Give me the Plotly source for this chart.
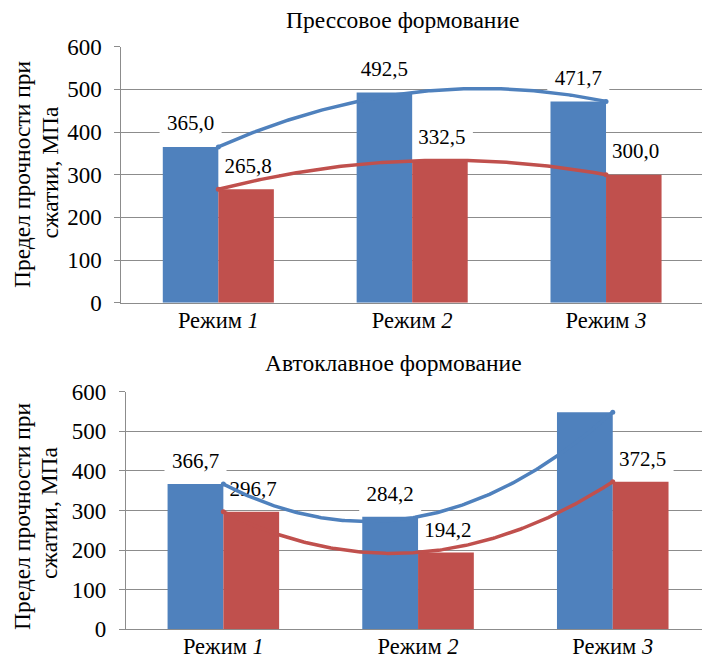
import numpy as np
import plotly.graph_objects as go
from plotly.subplots import make_subplots

# Compressive strength (MPa) for three processing modes
modes = ["Режим <i>1</i>", "Режим <i>2</i>", "Режим <i>3</i>"]
press_blue = [365.0, 492.5, 471.7]
press_red = [265.8, 332.5, 300.0]
autoclave_blue = [366.7, 284.2, 548.3]
autoclave_red = [296.7, 194.2, 372.5]

titles = ["Прессовое формование", "Автоклавное формование"]
y_title_lines = ["Предел прочности при", "сжатии, МПа"]
y_ticks = [0, 100, 200, 300, 400, 500, 600]

BLUE = "#4F81BD"
RED = "#C0504D"
GRID = "#8C8C8C"
FONT = "Liberation Serif"
W, H = 702, 660
Y_MAX = 600

fig = make_subplots(rows=2, cols=1)

# panel geometry in pixels: (plot top, plot bottom, plot left, category pitch)
geom = [(46.7, 302.7, 121.4, 193.85), (391.7, 629.3, 126.0, 194.7)]

x_idx = np.arange(len(modes))
x_fine = np.linspace(0, len(modes) - 1, 200)
half_bar = 0.143  # offset of each bar centre from the category centre

panels = [
    (press_blue, press_red, 1, 22),
    (autoclave_blue, autoclave_red, 2, 21),
]

for blue, red, row, lift in panels:
    xa = "x" if row == 1 else "x2"
    ya = "y" if row == 1 else "y2"
    top, bot, left, pitch = geom[row - 1]
    px_per_unit = (bot - top) / Y_MAX

    fig.add_trace(go.Bar(x=x_idx, y=blue, marker=dict(color=BLUE, line_width=0),
                         showlegend=False), row=row, col=1)
    fig.add_trace(go.Bar(x=x_idx, y=red, marker=dict(color=RED, line_width=0),
                         showlegend=False), row=row, col=1)

    # value labels: white boxes behind bars/lines, text above bars
    for vals, dx, xs in ((blue, -half_bar, 0), (red, half_bar, 2)):
        for i in range(len(modes)):
            fig.add_shape(type="rect", xref=xa, yref=ya, layer="between",
                          xsizemode="pixel", xanchor=x_idx[i] + dx, x0=xs - 31, x1=xs + 31,
                          ysizemode="pixel", yanchor=vals[i], y0=lift - 16, y1=lift + 16,
                          fillcolor="white", line_width=0)
        fig.add_trace(go.Scatter(x=x_idx + dx + xs / pitch,
                                 y=np.array(vals) + lift / px_per_unit,
                                 text=[f"{v:.1f}".replace(".", ",") for v in vals],
                                 mode="text", textposition="middle center", cliponaxis=False,
                                 textfont=dict(family=FONT, size=21, color="black"),
                                 showlegend=False, hoverinfo="skip"), row=row, col=1)

    # second-order polynomial trendlines through each series
    for vals, col in ((blue, BLUE), (red, RED)):
        coef = np.polyfit(x_idx, vals, 2)
        fig.add_trace(go.Scatter(x=x_fine, y=np.polyval(coef, x_fine), mode="lines",
                                 line=dict(color=col, width=3.5), showlegend=False,
                                 cliponaxis=False, hoverinfo="skip"), row=row, col=1)
        fig.add_trace(go.Scatter(x=[x_idx[0], x_idx[-1]], y=[vals[0], vals[-1]], mode="markers",
                                 marker=dict(color=col, size=5), showlegend=False,
                                 cliponaxis=False, hoverinfo="skip"), row=row, col=1)

    # axes placement
    fig.update_xaxes(domain=[left / W, 1.0], range=[-0.5, -0.5 + (W - left) / pitch],
                     row=row, col=1)
    fig.update_yaxes(domain=[1 - bot / H, 1 - top / H], row=row, col=1)

axis_common = dict(showline=True, linecolor=GRID, linewidth=1.3, zeroline=False,
                   automargin=False)

fig.update_xaxes(tickvals=list(x_idx), ticktext=modes, showgrid=False, ticks="",
                 ticklabelstandoff=-3,
                 tickfont=dict(family=FONT, size=22.5, color="black"), **axis_common)
fig.update_yaxes(range=[0, Y_MAX], tickvals=y_ticks, showgrid=True, gridcolor=GRID, gridwidth=1.3,
                 ticks="outside", ticklen=6, tickcolor=GRID, tickwidth=1.3,
                 ticklabelstandoff=8,
                 tickfont=dict(family=FONT, size=23, color="black"), **axis_common)

# panel titles
for text, xc, yc in ((titles[0], 402, 20), (titles[1], 393, 363)):
    fig.add_annotation(text=text, x=xc / W, y=1 - yc / H, xref="paper", yref="paper",
                       showarrow=False, xanchor="center", yanchor="middle",
                       font=dict(family=FONT, size=23.5, color="black"))

# y-axis titles, two rotated lines per panel
for (x1, y1), (x2, y2) in (((22, 174), (49, 172.5)), ((22, 516), (49, 513))):
    for line, xc, yc in ((y_title_lines[0], x1, y1), (y_title_lines[1], x2, y2)):
        fig.add_annotation(text=line, x=xc / W, y=1 - yc / H, xref="paper", yref="paper",
                           showarrow=False, textangle=-90, xanchor="center", yanchor="middle",
                           font=dict(family=FONT, size=23.5, color="black"))

fig.update_layout(width=W, height=H, margin=dict(l=0, r=0, t=0, b=0, autoexpand=False),
                  paper_bgcolor="white", plot_bgcolor="white",
                  font=dict(family=FONT, color="black"),
                  barmode="group", bargap=0.427, bargroupgap=0, showlegend=False)

fig.write_html("out.html")
